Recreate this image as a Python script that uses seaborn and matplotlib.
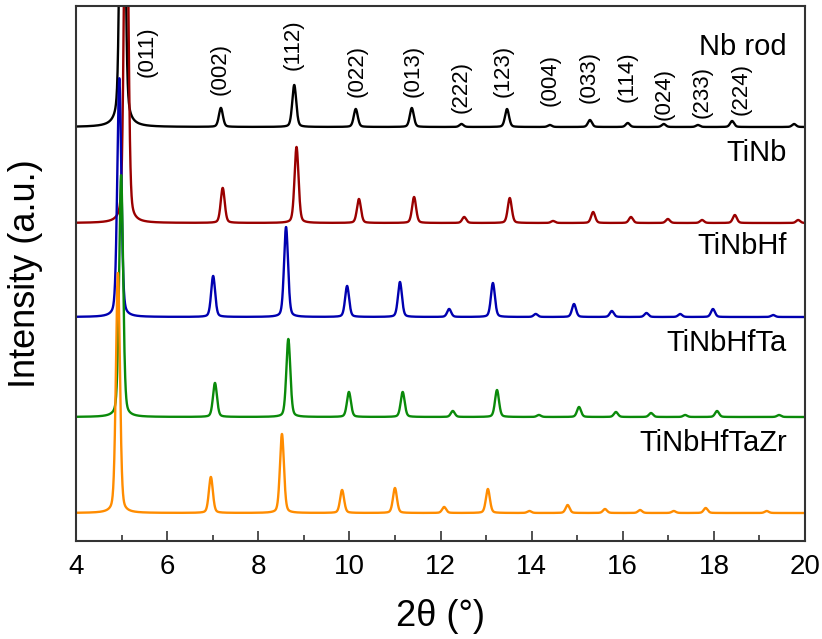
import numpy as np
import pandas as pd
import matplotlib
matplotlib.use("Agg")
import matplotlib.pyplot as plt
import seaborn as sns
from matplotlib.ticker import MultipleLocator

sns.set_theme(style="white")
plt.rcParams['font.family'] = ['Liberation Sans', 'DejaVu Sans']
plt.rcParams['text.color'] = 'black'
plt.rcParams['axes.labelcolor'] = 'black'
plt.rcParams['xtick.color'] = 'black'

# ---- data ----
samples = ["Nb rod", "TiNb", "TiNbHf", "TiNbHfTa", "TiNbHfTaZr"]
colors = ["#000000", "#9a0000", "#0000b0", "#0a8a0a", "#ff8c00"]
offsets = [414, 318, 224, 124, 28]

pos_nb = [5.02, 7.18, 8.79, 10.14, 11.37, 12.46, 13.46, 14.40, 15.28, 16.11, 16.90, 17.65, 18.40, 19.76]
int_nb = [600, 19, 42, 18, 19, 3, 18, 2, 7, 4, 3, 2, 6, 3]

pos_tinb = [5.10, 7.22, 8.84, 10.21, 11.42, 12.52, 13.52, 14.47, 15.35, 16.18, 16.99, 17.74, 18.46, 19.85]
int_tinb = [420, 35, 76, 24, 26, 6, 25, 2, 11, 6, 4, 3, 8, 3]

pos_tinbhf = [4.95, 7.01, 8.61, 9.95, 11.11, 12.19, 13.15, 14.09, 14.93, 15.76, 16.52, 17.26, 17.98, 19.30]
int_tinbhf = [239, 41, 90, 31, 35, 8, 34, 3, 13, 6, 4, 3, 8, 2]

pos_tinbhfta = [4.99, 7.05, 8.66, 9.99, 11.17, 12.27, 13.24, 14.16, 15.04, 15.85, 16.62, 17.37, 18.07, 19.43]
int_tinbhfta = [242, 34, 78, 25, 25, 6, 27, 2, 10, 5, 4, 2, 6, 2]

pos_zr = [4.92, 6.96, 8.52, 9.84, 11.00, 12.08, 13.04, 13.95, 14.79, 15.61, 16.38, 17.12, 17.82, 19.16]
int_zr = [240, 36, 79, 23, 25, 6, 24, 2, 8, 4, 3, 2, 5, 2]

hkl_labels = ["(011)", "(002)", "(112)", "(022)", "(013)", "(222)", "(123)",
              "(004)", "(033)", "(114)", "(024)", "(233)", "(224)"]
hkl_x = [5.56, 7.16, 8.76, 10.17, 11.40, 12.45, 13.37, 14.40, 15.26, 16.10, 16.90, 17.74, 18.60]
hkl_y = [464, 446, 471, 444, 444, 428, 444, 435, 438, 439, 421, 423, 426]

label_y = [494, 388, 295, 198, 98]

peaks = [(pos_nb, int_nb), (pos_tinb, int_tinb), (pos_tinbhf, int_tinbhf),
         (pos_tinbhfta, int_tinbhfta), (pos_zr, int_zr)]

# ---- build profiles (peak list -> pseudo-Voigt profile) ----
x = np.arange(4.0, 20.0001, 0.004)
def profile(pos, ints, w=0.052, eta=0.3):
    y = np.zeros_like(x)
    for p, h in zip(pos, ints):
        g = np.exp(-np.log(2) * ((x - p) / w) ** 2)
        l = 1.0 / (1.0 + ((x - p) / w) ** 2)
        y += h * ((1 - eta) * g + eta * l)
    return y

fig = plt.figure(figsize=(8.22, 6.39), dpi=100)
ax = fig.add_axes([76/822, 1 - 541/639, (805-76)/822, (541-6)/639])

for name, col, off, (pos, ints) in zip(samples, colors, offsets, peaks):
    df = pd.DataFrame({"x": x, "y": profile(pos, ints) + off})
    sns.lineplot(data=df, x="x", y="y", color=col, lw=1.7, ax=ax, estimator=None, sort=False)

ax.set_xlim(4, 20)
ax.set_ylim(0, 535)
ax.set_yticks([])
ax.xaxis.set_major_locator(MultipleLocator(2))
ax.xaxis.set_minor_locator(MultipleLocator(1))
ax.tick_params(axis="x", which="major", direction="in", length=7, width=1.2,
               color="#333333", labelcolor="black", labelsize=20, pad=9, bottom=True, top=False)
ax.tick_params(axis="x", which="minor", direction="in", length=4, width=1.2,
               color="#333333", bottom=True, top=False)
for s in ax.spines.values():
    s.set_color("#333333")
    s.set_linewidth(1.5)

ax.set_xlabel("2θ (°)", fontsize=26, labelpad=14, color="black")
ax.set_ylabel("Intensity (a.u.)", fontsize=26, color="black")
ax.yaxis.set_label_coords(-0.045, 0.50)

for t, xx, yy in zip(hkl_labels, hkl_x, hkl_y):
    ax.text(xx, yy, t, rotation=90, ha="center", va="bottom", fontsize=16, color="black")

for name, yy in zip(samples, label_y):
    ax.text(19.6, yy, name, ha="right", va="center", fontsize=21, color="black")

fig.savefig("out.png", dpi=100)
